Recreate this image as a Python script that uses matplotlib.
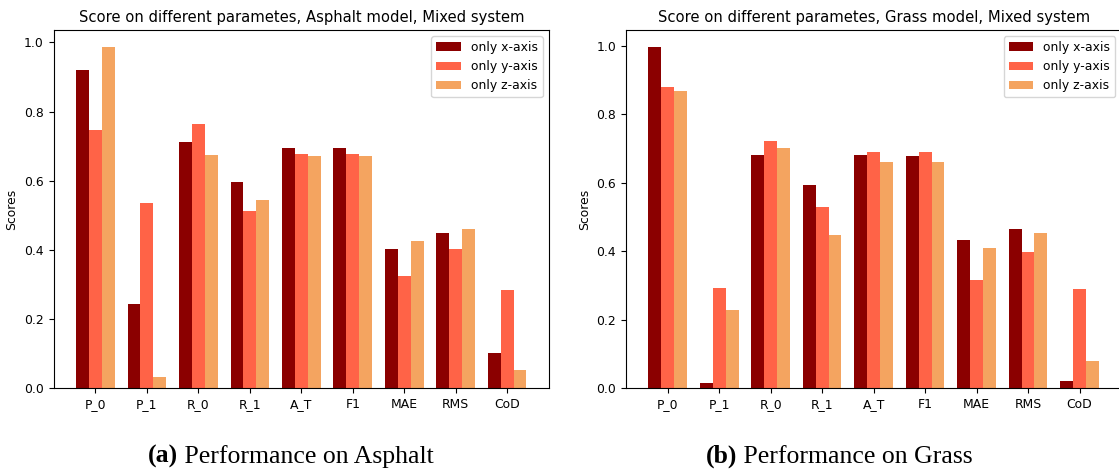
import numpy as np
import matplotlib
matplotlib.use("Agg")
import matplotlib.pyplot as plt
from matplotlib.text import Annotation

# parameters scored for each model
params = ['P_0', 'P_1', 'R_0', 'R_1', 'A_T', 'F1', 'MAE', 'RMS', 'CoD']
series_names = ['only x-axis', 'only y-axis', 'only z-axis']

# asphalt model scores
asphalt_x = [0.921, 0.243, 0.712, 0.596, 0.695, 0.695, 0.402, 0.448, 0.100]
asphalt_y = [0.747, 0.535, 0.764, 0.512, 0.677, 0.677, 0.324, 0.402, 0.283]
asphalt_z = [0.987, 0.031, 0.674, 0.544, 0.671, 0.671, 0.425, 0.460, 0.051]

# grass model scores
grass_x = [0.996, 0.014, 0.680, 0.593, 0.680, 0.677, 0.432, 0.464, 0.020]
grass_y = [0.879, 0.291, 0.721, 0.528, 0.689, 0.689, 0.315, 0.397, 0.288]
grass_z = [0.867, 0.227, 0.701, 0.446, 0.660, 0.660, 0.408, 0.452, 0.078]

colors = ['darkred', 'tomato', 'sandybrown']
width = 0.25


def plot_scores(ax, values, title):
    x = np.arange(len(params))
    for i, (vals, name) in enumerate(zip(values, series_names)):
        ax.bar(x + (i - 1) * width, vals, width, color=colors[i], label=name)
    ax.set_xticks(x)
    ax.set_xticklabels(params)
    ax.set_ylabel('Scores', fontsize=8.9)
    ax.set_title(title, fontsize=10.6)
    ax.tick_params(labelsize=8.9)
    ax.legend(fontsize=8.9, loc='upper right')


fig = plt.figure(figsize=(11.19, 4.73), dpi=100)
ax1 = fig.add_axes([0.0479, 0.1797, 0.4427, 0.757])
ax2 = fig.add_axes([0.5594, 0.1797, 0.4427, 0.757])

plot_scores(ax1, [asphalt_x, asphalt_y, asphalt_z],
            'Score on different parametes, Asphalt model, Mixed system')
plot_scores(ax2, [grass_x, grass_y, grass_z],
            'Score on different parametes, Grass model, Mixed system')

# sub-captions under each panel: bold tag followed by plain text
cap_font = dict(family='Liberation Serif', fontsize=18.5)
for xpos, tag, caption in [(0.132, '(a)', ' Performance on Asphalt'),
                           (0.631, '(b)', ' Performance on Grass')]:
    t = fig.text(xpos, 0.022, tag, fontweight='bold', va='baseline', **cap_font)
    fig.add_artist(Annotation(caption, xy=(1, 0), xycoords=t,
                              va='bottom', **cap_font))

fig.savefig('out.png', dpi=100)
